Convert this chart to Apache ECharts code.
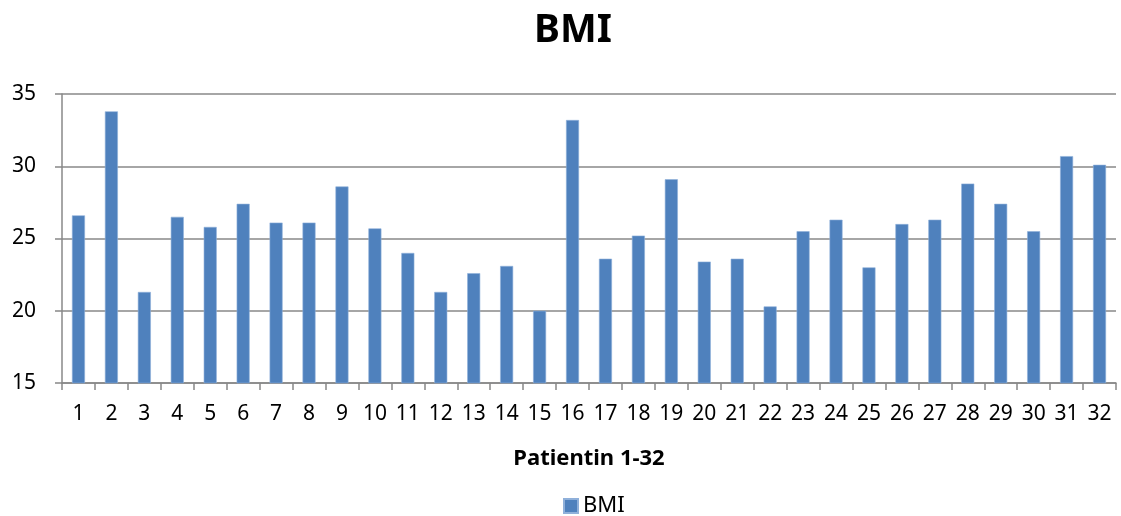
<!DOCTYPE html>
<html>
<head>
<meta charset="utf-8">
<script src="https://cdn.jsdelivr.net/npm/echarts@6/dist/echarts.min.js"></script>
<style>
  html, body { margin: 0; padding: 0; background: #fff; }
  #chart { width: 1121px; height: 516px; }
</style>
</head>
<body>
<div id="chart"></div>
<script>
// Patient numbers and their BMI values
const patients = ['1','2','3','4','5','6','7','8','9','10','11','12','13','14','15','16',
                  '17','18','19','20','21','22','23','24','25','26','27','28','29','30','31','32'];
const bmiValues = [26.6, 33.8, 21.3, 26.5, 25.8, 27.4, 26.1, 26.1, 28.6, 25.7, 24.0, 21.3, 22.6, 23.1, 20.0, 33.2,
                   23.6, 25.2, 29.1, 23.4, 23.6, 20.3, 25.5, 26.3, 23.0, 26.0, 26.3, 28.8, 27.4, 25.5, 30.7, 30.1];
const yMin = 15, yMax = 35, yStep = 5;

const font = '"Noto Sans", "Liberation Sans", sans-serif';
const gridColor = '#888888';

const chart = echarts.init(document.getElementById('chart'), null, { renderer: 'canvas' });
chart.setOption({
  animation: false,
  title: {
    text: 'BMI',
    left: 529,
    top: 6,
    textStyle: { fontFamily: font, fontSize: 39, fontWeight: 'bold', color: '#000' }
  },
  legend: {
    data: ['BMI'],
    left: 558,
    top: 490,
    icon: 'rect',
    itemWidth: 14,
    itemHeight: 14,
    itemGap: 8,
    textStyle: { fontFamily: font, fontSize: 22, color: '#000' }
  },
  grid: { left: 62, right: 5, top: 94, bottom: 133, containLabel: false },
  xAxis: {
    type: 'category',
    data: patients,
    name: 'Patientin 1-32',
    nameLocation: 'middle',
    nameGap: 65,
    nameTextStyle: { fontFamily: font, fontSize: 22, fontWeight: 'bold', color: '#000' },
    axisLine: { lineStyle: { color: gridColor, width: 1.5 } },
    axisTick: { show: true, alignWithLabel: false, length: 7, lineStyle: { color: gridColor, width: 1.5 } },
    axisLabel: { fontFamily: font, fontSize: 21, color: '#000', margin: 21, interval: 0 }
  },
  yAxis: {
    type: 'value',
    min: yMin,
    max: yMax,
    interval: yStep,
    axisLine: { show: true, lineStyle: { color: gridColor, width: 1.5 } },
    axisTick: { show: true, length: 7, lineStyle: { color: gridColor, width: 1.5 } },
    axisLabel: { fontFamily: font, fontSize: 21, color: '#000', margin: 26 },
    splitLine: { show: true, lineStyle: { color: gridColor, width: 1.5 } }
  },
  series: [{
    name: 'BMI',
    type: 'bar',
    data: bmiValues,
    barWidth: 13,
    itemStyle: { color: '#4F81BD', borderColor: '#8FB0DA', borderWidth: 0.6 }
  }]
});
</script>
</body>
</html>
